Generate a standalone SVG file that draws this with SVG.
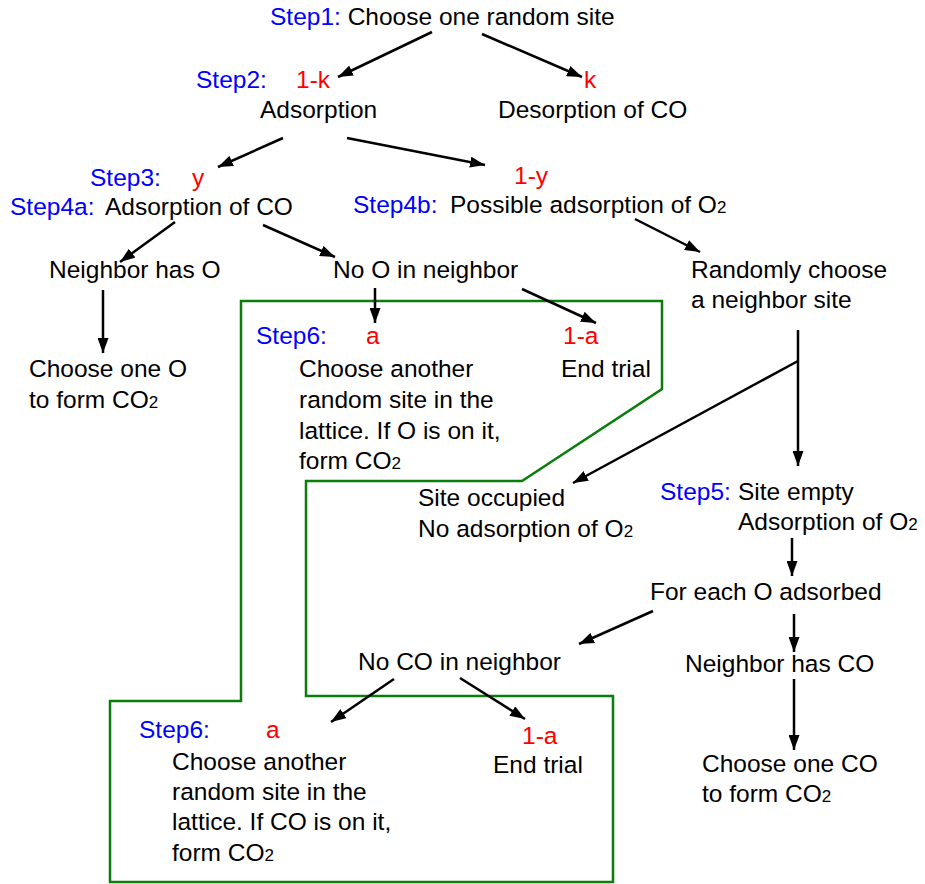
<svg xmlns="http://www.w3.org/2000/svg" width="925" height="884" viewBox="0 0 925 884">
<style>
text{font-family:"Liberation Sans",Arial,sans-serif;font-size:24.5px;fill:#000}
.s{fill:#0000ff}
.p{fill:#ff0000}
.sub{font-size:17px}
.c line{stroke:#000;stroke-width:2.5;marker-end:url(#ah)}
.box{fill:none;stroke:#0a7d0a;stroke-width:2.5}
</style>
<defs>
<marker id="ah" markerUnits="userSpaceOnUse" markerWidth="15" markerHeight="11" refX="15" refY="5.5" orient="auto">
<path d="M0,0 L15,5.5 L0,11 z" fill="#000"/>
</marker>
</defs>
<rect width="925" height="884" fill="#fff"/>
<g id="region">
<polygon class="box" points="241,301 662,301 662,389 522,481 306,481 306,696 613,696 613,882 110,882 110,701 241,701"/>
</g>
<g class="c" id="connectors">
<line x1="432" y1="32" x2="338" y2="77"/>
<line x1="482" y1="34" x2="582" y2="77"/>
<line x1="283" y1="138" x2="218" y2="167"/>
<line x1="347" y1="138" x2="485" y2="165"/>
<line x1="175" y1="222" x2="120" y2="262"/>
<line x1="263" y1="225" x2="335" y2="257"/>
<line x1="635" y1="219" x2="700" y2="252"/>
<line x1="103" y1="290" x2="103" y2="353"/>
<line x1="375" y1="288" x2="375" y2="323"/>
<line x1="522" y1="289" x2="596" y2="323"/>
<line x1="798" y1="330" x2="798" y2="466"/>
<line x1="798" y1="361" x2="573" y2="483"/>
<line x1="792" y1="538" x2="792" y2="576"/>
<line x1="653" y1="611" x2="579" y2="644"/>
<line x1="794" y1="614" x2="794" y2="652"/>
<line x1="794" y1="679" x2="794" y2="750"/>
<line x1="394" y1="679" x2="331" y2="722"/>
<line x1="460" y1="678" x2="525" y2="719"/>
</g>
<g id="step1"><text x="270" y="25"><tspan class="s">Step1:</tspan> Choose one random site</text></g>
<g id="step2"><text x="196" y="88" class="s">Step2:</text><text x="296" y="88" class="p">1-k</text><text x="260" y="118">Adsorption</text></g>
<g id="desorption"><text x="584" y="88" class="p">k</text><text x="498" y="118">Desorption of CO</text></g>
<g id="step4a"><text x="90" y="186" class="s">Step3:</text><text x="192" y="186" class="p">y</text><text x="10" y="215" class="s">Step4a:</text><text x="105" y="215">Adsorption of CO</text></g>
<g id="step4b"><text x="514" y="184" class="p">1-y</text><text x="353" y="213" class="s">Step4b:</text><text x="450" y="213">Possible adsorption of O<tspan class="sub">2</tspan></text></g>
<g id="neighborO"><text x="49" y="278">Neighbor has O</text></g>
<g id="noO"><text x="333" y="278">No O in neighbor</text></g>
<g id="randomly"><text x="691" y="278">Randomly choose</text><text x="691" y="308">a neighbor site</text></g>
<g id="chooseO"><text x="29" y="377">Choose one O</text><text x="29" y="408">to form CO<tspan class="sub">2</tspan></text></g>
<g id="step6a"><text x="256" y="344" class="s">Step6:</text><text x="366" y="344" class="p">a</text>
<text x="299" y="377">Choose another</text><text x="299" y="408">random site in the</text><text x="299" y="439">lattice. If O is on it,</text><text x="299" y="469">form CO<tspan class="sub">2</tspan></text></g>
<g id="end1"><text x="563" y="344" class="p">1-a</text><text x="561" y="377">End trial</text></g>
<g id="occupied"><text x="418" y="506">Site occupied</text><text x="418" y="537">No adsorption of O<tspan class="sub">2</tspan></text></g>
<g id="step5"><text x="660" y="500" class="s">Step5:</text><text x="738" y="500">Site empty</text><text x="738" y="530">Adsorption of O<tspan class="sub">2</tspan></text></g>
<g id="foreach"><text x="650" y="600">For each O adsorbed</text></g>
<g id="noCO"><text x="358" y="670">No CO in neighbor</text></g>
<g id="neighborCO"><text x="685" y="672">Neighbor has CO</text></g>
<g id="step6b"><text x="139" y="738" class="s">Step6:</text><text x="266" y="738" class="p">a</text>
<text x="172" y="770">Choose another</text><text x="172" y="800">random site in the</text><text x="172" y="830">lattice. If CO is on it,</text><text x="172" y="861">form CO<tspan class="sub">2</tspan></text></g>
<g id="end2"><text x="522" y="744" class="p">1-a</text><text x="493" y="773">End trial</text></g>
<g id="chooseCO"><text x="702" y="772">Choose one CO</text><text x="702" y="802">to form CO<tspan class="sub">2</tspan></text></g>
</svg>
